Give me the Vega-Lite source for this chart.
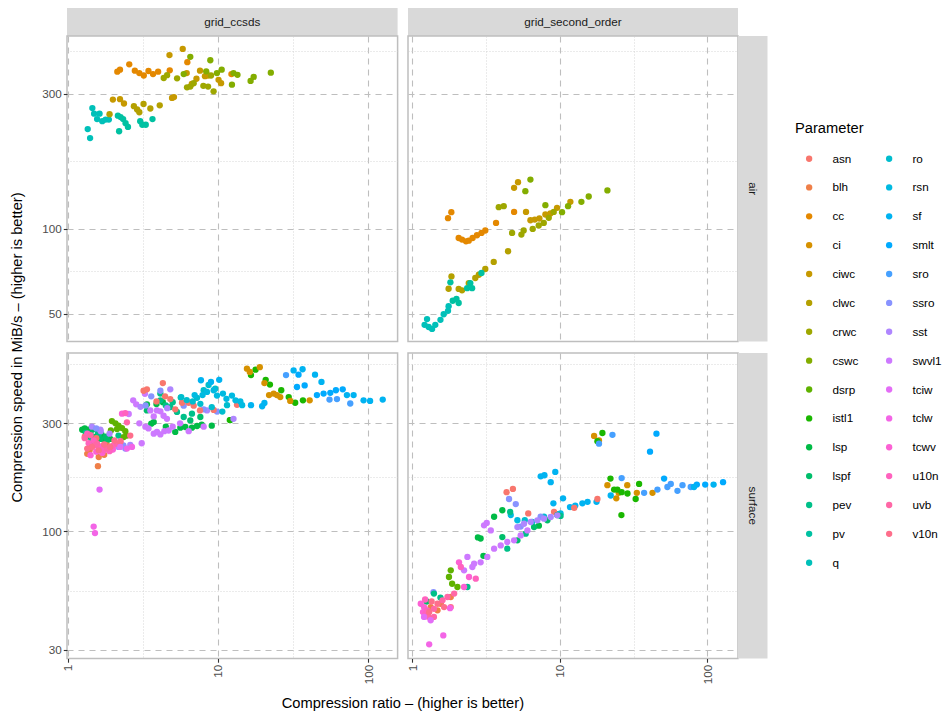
{
  "$schema": "https://vega.github.io/schema/vega-lite/v6.json",
  "background": "white",
  "padding": {"left": 0, "top": 8, "right": 0, "bottom": 0},
  "config": {
    "font": "Liberation Sans",
    "view": {"stroke": null},
    "legend": {
      "orient": "none",
      "legendX": 795,
      "legendY": 113,
      "direction": "vertical",
      "columns": 2,
      "padding": 0,
      "titleFontSize": 14.7,
      "titleFontWeight": "normal",
      "titleColor": "black",
      "titlePadding": 17,
      "labelFontSize": 11.7,
      "labelColor": "black",
      "labelOffset": 17.4,
      "symbolOffset": 8.3,
      "symbolSize": 40,
      "symbolType": "circle",
      "symbolStrokeWidth": 0,
      "symbolOpacity": 1,
      "rowPadding": 15.87,
      "columnPadding": 16
    }
  },
  "datasets": {
    "ca": [
      {"p":"q","r":1.46,"s":267},{"p":"q","r":1.5,"s":255},{"p":"q","r":1.63,"s":255},{"p":"q","r":1.57,"s":244},{"p":"q","r":1.7,"s":240},{"p":"q","r":1.79,"s":243},{"p":"q","r":1.88,"s":243},{"p":"q","r":1.36,"s":225},{"p":"q","r":1.41,"s":209},
      {"p":"pv","r":2.16,"s":251},{"p":"pv","r":2.25,"s":248},{"p":"pv","r":2.34,"s":244},{"p":"pv","r":2.43,"s":236},{"p":"pv","r":2.52,"s":229},{"p":"pv","r":2.2,"s":221},{"p":"pv","r":3.04,"s":240},{"p":"pv","r":3.14,"s":233},{"p":"pv","r":3.31,"s":233},{"p":"pv","r":3.67,"s":244},
      {"p":"cc","r":2.14,"s":359},{"p":"cc","r":2.23,"s":365},{"p":"cc","r":2.57,"s":381},{"p":"cc","r":2.8,"s":362},{"p":"cc","r":3.0,"s":355},{"p":"cc","r":3.21,"s":348},{"p":"cc","r":3.45,"s":361},{"p":"cc","r":3.7,"s":352},{"p":"cc","r":4.0,"s":359},{"p":"cc","r":4.78,"s":363},{"p":"cc","r":6.26,"s":388},{"p":"cc","r":12.3,"s":352},
      {"p":"ciwc","r":4.76,"s":411},{"p":"ciwc","r":5.83,"s":432},{"p":"ciwc","r":6.2,"s":355},{"p":"ciwc","r":7.2,"s":339},{"p":"ciwc","r":7.6,"s":362},{"p":"ciwc","r":8.2,"s":346},{"p":"ciwc","r":8.6,"s":348},{"p":"ciwc","r":10.1,"s":336},{"p":"ciwc","r":10.5,"s":327},{"p":"ciwc","r":6.7,"s":325},{"p":"ciwc","r":2.0,"s":286},{"p":"ciwc","r":2.23,"s":287},{"p":"ciwc","r":2.37,"s":277},{"p":"ciwc","r":4.95,"s":290},{"p":"ciwc","r":5.1,"s":292},
      {"p":"clwc","r":2.76,"s":271},{"p":"clwc","r":2.9,"s":264},{"p":"clwc","r":3.0,"s":258},{"p":"clwc","r":3.2,"s":276},{"p":"clwc","r":3.55,"s":266},{"p":"clwc","r":4.1,"s":273},{"p":"clwc","r":1.9,"s":254},
      {"p":"crwc","r":4.36,"s":341},{"p":"crwc","r":4.59,"s":349},{"p":"crwc","r":5.35,"s":340},{"p":"crwc","r":6.23,"s":316},{"p":"crwc","r":6.55,"s":318},{"p":"crwc","r":8.0,"s":320},{"p":"crwc","r":8.6,"s":318},{"p":"crwc","r":9.36,"s":306},{"p":"crwc","r":9.0,"s":348},{"p":"crwc","r":6.9,"s":327},
      {"p":"cswc","r":6.55,"s":405},{"p":"cswc","r":8.9,"s":394},{"p":"cswc","r":5.92,"s":352},{"p":"cswc","r":8.36,"s":360},{"p":"cswc","r":9.85,"s":355},{"p":"cswc","r":10.6,"s":365},{"p":"cswc","r":12.7,"s":355},{"p":"cswc","r":13.5,"s":350},{"p":"cswc","r":16.5,"s":333},{"p":"cswc","r":17.3,"s":344},{"p":"cswc","r":22.5,"s":356},{"p":"cswc","r":12.4,"s":323}
    ],
    "sa": [
      {"p":"cc","r":1.744,"s":108.9},{"p":"cc","r":1.837,"s":114.4},{"p":"cc","r":2.06,"s":92.7},{"p":"cc","r":2.17,"s":91.5},{"p":"cc","r":2.31,"s":90.2},{"p":"cc","r":2.41,"s":90.7},{"p":"cc","r":2.56,"s":92.7},{"p":"cc","r":2.74,"s":94.8},{"p":"cc","r":2.94,"s":96.6},{"p":"cc","r":3.12,"s":98.5},{"p":"cc","r":3.69,"s":104.8},{"p":"cc","r":4.89,"s":114.6},
      {"p":"ciwc","r":4.89,"s":139.4},{"p":"ciwc","r":5.2,"s":146},{"p":"ciwc","r":5.89,"s":114.6},{"p":"ciwc","r":6.31,"s":107.1},{"p":"ciwc","r":6.75,"s":107.7},{"p":"ciwc","r":7.26,"s":108.6},{"p":"ciwc","r":7.97,"s":112.2},{"p":"ciwc","r":8.62,"s":113.1},{"p":"ciwc","r":9.56,"s":118.5},{"p":"ciwc","r":11.77,"s":124.4},
      {"p":"clwc","r":4.45,"s":83.2},{"p":"clwc","r":3.56,"s":76.3},{"p":"clwc","r":3.12,"s":72.0},{"p":"clwc","r":2.82,"s":68.7},{"p":"clwc","r":2.67,"s":66.9},{"p":"clwc","r":2.41,"s":64.2},{"p":"clwc","r":2.06,"s":61.2},{"p":"clwc","r":1.84,"s":67.8},{"p":"clwc","r":1.76,"s":61.3},{"p":"clwc","r":2.17,"s":60.5},
      {"p":"crwc","r":3.85,"s":119.1},{"p":"crwc","r":4.16,"s":120.1},{"p":"crwc","r":4.74,"s":96.6},{"p":"crwc","r":5.48,"s":95.3},{"p":"crwc","r":5.68,"s":98.5},{"p":"crwc","r":6.54,"s":99.8},{"p":"crwc","r":7.18,"s":102.6},{"p":"crwc","r":7.77,"s":104.8},{"p":"crwc","r":8.4,"s":109.2},{"p":"crwc","r":9.08,"s":114.6},
      {"p":"cswc","r":6.31,"s":149.1},{"p":"cswc","r":5.83,"s":135.7},{"p":"cswc","r":7.97,"s":121.1},{"p":"cswc","r":10.34,"s":114.4},{"p":"cswc","r":11.35,"s":120.1},{"p":"cswc","r":13.98,"s":124.4},{"p":"cswc","r":15.67,"s":129.9},{"p":"cswc","r":20.98,"s":136.5},
      {"p":"q","r":1.257,"s":47.9},{"p":"q","r":1.21,"s":45.7},{"p":"q","r":1.29,"s":44.9},{"p":"q","r":1.36,"s":44.2},{"p":"q","r":1.43,"s":45.7},{"p":"q","r":1.55,"s":47.6},{"p":"q","r":1.63,"s":49.8},{"p":"q","r":1.744,"s":51.2},{"p":"q","r":1.76,"s":53.2},
      {"p":"pv","r":1.876,"s":55.6},{"p":"pv","r":1.99,"s":56.4},{"p":"pv","r":2.06,"s":54.6},{"p":"pv","r":1.81,"s":64.6},{"p":"pv","r":2.35,"s":61.6},{"p":"pv","r":2.47,"s":64.2},{"p":"pv","r":2.54,"s":61.6},{"p":"pv","r":2.94,"s":69.7}
    ],
    "cs": [
      {"p":"lsp","r":1.25,"s":281},{"p":"lsp","r":1.31,"s":279},{"p":"lsp","r":1.38,"s":281},{"p":"lsp","r":1.57,"s":264},{"p":"lsp","r":1.74,"s":255},{"p":"lsp","r":1.92,"s":256},{"p":"lsp","r":3.37,"s":364},{"p":"lsp","r":3.6,"s":299},{"p":"lsp","r":3.74,"s":304},{"p":"lsp","r":5.2,"s":275},{"p":"lsp","r":5.62,"s":287},{"p":"lsp","r":6.07,"s":289},{"p":"lsp","r":6.72,"s":287},{"p":"lsp","r":7.26,"s":292},{"p":"lsp","r":9.1,"s":293},{"p":"lsp","r":12.1,"s":310},
      {"p":"lsp","r":1.3,"s":285},{"p":"lsp","r":1.48,"s":283},{"p":"lsp","r":1.68,"s":268},{"p":"lsp","r":3.9,"s":365},{"p":"lsp","r":4.3,"s":372},{"p":"lsp","r":4.5,"s":290},{"p":"lsp","r":7.8,"s":296},
      {"p":"lspf","r":1.42,"s":273},{"p":"lspf","r":1.49,"s":261},{"p":"lspf","r":1.65,"s":256},{"p":"lspf","r":1.83,"s":252},{"p":"lspf","r":6.55,"s":309},{"p":"lspf","r":7.64,"s":320},{"p":"lspf","r":3.37,"s":342},{"p":"lspf","r":1.38,"s":262},{"p":"lspf","r":1.8,"s":262},
      {"p":"pev","r":1.61,"s":270},{"p":"pev","r":1.45,"s":252},{"p":"pev","r":2.18,"s":265},{"p":"pev","r":4.14,"s":406},{"p":"pev","r":4.14,"s":379},{"p":"pev","r":4.82,"s":354},{"p":"pev","r":5.34,"s":337},{"p":"pev","r":5.92,"s":320},{"p":"pev","r":6.72,"s":331},{"p":"pev","r":5.66,"s":390},{"p":"pev","r":1.32,"s":272},{"p":"pev","r":1.58,"s":278},{"p":"pev","r":4.5,"s":360},{"p":"pev","r":5.0,"s":372},
      {"p":"istl1","r":1.53,"s":248},{"p":"istl1","r":16.6,"s":490},{"p":"istl1","r":17.8,"s":518},{"p":"istl1","r":20.8,"s":467},{"p":"istl1","r":22.2,"s":445},{"p":"istl1","r":26.4,"s":420},{"p":"istl1","r":29.6,"s":392},{"p":"istl1","r":32.7,"s":370},{"p":"istl1","r":36.8,"s":379},{"p":"istl1","r":12,"s":310},
      {"p":"dsrp","r":1.97,"s":307},{"p":"dsrp","r":2.08,"s":300},{"p":"dsrp","r":2.18,"s":293},{"p":"dsrp","r":2.3,"s":286},{"p":"dsrp","r":2.42,"s":277},{"p":"dsrp","r":2.48,"s":265},{"p":"dsrp","r":1.94,"s":279},{"p":"dsrp","r":2.13,"s":283},{"p":"dsrp","r":2.36,"s":261},
      {"p":"swvl1","r":2.73,"s":379},{"p":"swvl1","r":2.86,"s":364},{"p":"swvl1","r":3.11,"s":245},{"p":"swvl1","r":3.29,"s":290},{"p":"swvl1","r":3.55,"s":342},{"p":"swvl1","r":3.74,"s":322},{"p":"swvl1","r":3.93,"s":342},{"p":"swvl1","r":4.14,"s":339},{"p":"swvl1","r":4.35,"s":324},{"p":"swvl1","r":4.58,"s":314},{"p":"swvl1","r":3.74,"s":270},{"p":"swvl1","r":3.93,"s":275},{"p":"swvl1","r":4.14,"s":268},{"p":"swvl1","r":4.4,"s":277},{"p":"swvl1","r":4.7,"s":279},{"p":"swvl1","r":6.39,"s":277},{"p":"swvl1","r":8.04,"s":290},{"p":"swvl1","r":3.27,"s":405},
      {"p":"swvl1","r":2.55,"s":330},{"p":"swvl1","r":3.0,"s":300},{"p":"swvl1","r":3.45,"s":285},{"p":"swvl1","r":5.0,"s":290},{"p":"swvl1","r":5.6,"s":300},
      {"p":"sst","r":1.65,"s":281},{"p":"sst","r":2.18,"s":236},{"p":"sst","r":2.61,"s":241},{"p":"sst","r":4.82,"s":424},{"p":"sst","r":8.46,"s":342},{"p":"sst","r":12.7,"s":314},{"p":"sst","r":1.66,"s":277},{"p":"sst","r":1.45,"s":290},{"p":"sst","r":1.9,"s":270},{"p":"sst","r":3.05,"s":355},{"p":"sst","r":4.6,"s":350},
      {"p":"ssro","r":4.14,"s":418},{"p":"ssro","r":5.92,"s":359},{"p":"ssro","r":8.04,"s":346},{"p":"ssro","r":9.86,"s":338},{"p":"ssro","r":2.42,"s":232},{"p":"ssro","r":1.55,"s":285},{"p":"ssro","r":2.35,"s":240},{"p":"ssro","r":3.3,"s":360},{"p":"ssro","r":3.6,"s":395},
      {"p":"asn","r":1.45,"s":237},{"p":"asn","r":1.69,"s":237},{"p":"asn","r":1.97,"s":237},{"p":"asn","r":3.2,"s":418},{"p":"asn","r":3.37,"s":424},{"p":"asn","r":4.3,"s":452},{"p":"asn","r":4.82,"s":384},{"p":"asn","r":5.2,"s":346},{"p":"asn","r":5.77,"s":370},{"p":"asn","r":6.39,"s":370},{"p":"asn","r":6.9,"s":359},{"p":"asn","r":7.6,"s":342},{"p":"asn","r":9.37,"s":344},{"p":"asn","r":13.4,"s":362},{"p":"asn","r":1.3,"s":262},{"p":"asn","r":1.55,"s":258},{"p":"asn","r":3.9,"s":375},{"p":"asn","r":4.45,"s":395},
      {"p":"blh","r":1.35,"s":220},{"p":"blh","r":1.61,"s":213},{"p":"blh","r":1.59,"s":194},{"p":"blh","r":1.83,"s":240},{"p":"blh","r":1.4,"s":228},{"p":"blh","r":1.75,"s":218},
      {"p":"tcwv","r":1.42,"s":217},{"p":"tcwv","r":1.65,"s":236},{"p":"tcwv","r":2.3,"s":331},{"p":"tcwv","r":1.55,"s":225},{"p":"tcwv","r":1.7,"s":222},{"p":"tcwv","r":2.0,"s":230},
      {"p":"u10n","r":1.35,"s":270},{"p":"u10n","r":1.49,"s":252},{"p":"u10n","r":1.74,"s":228},{"p":"u10n","r":2.02,"s":240},{"p":"u10n","r":2.42,"s":333},{"p":"u10n","r":1.38,"s":245},{"p":"u10n","r":1.62,"s":232},{"p":"u10n","r":1.9,"s":226},
      {"p":"uvb","r":1.42,"s":266},{"p":"uvb","r":1.57,"s":244},{"p":"uvb","r":1.83,"s":232},{"p":"uvb","r":2.13,"s":244},{"p":"uvb","r":2.48,"s":303},{"p":"uvb","r":1.3,"s":258},{"p":"uvb","r":1.52,"s":240},{"p":"uvb","r":2.25,"s":250},
      {"p":"v10n","r":1.45,"s":236},{"p":"v10n","r":1.61,"s":228},{"p":"v10n","r":1.92,"s":236},{"p":"v10n","r":2.24,"s":248},{"p":"v10n","r":2.61,"s":265},{"p":"v10n","r":1.35,"s":232},{"p":"v10n","r":1.75,"s":242},{"p":"v10n","r":2.05,"s":252},
      {"p":"tciw","r":1.63,"s":153},{"p":"tciw","r":2.24,"s":236},
      {"p":"tclw","r":1.49,"s":105},{"p":"tclw","r":1.52,"s":98.3},{"p":"tclw","r":2.48,"s":232},{"p":"tclw","r":2.68,"s":236},
      {"p":"ro","r":5.7,"s":392},{"p":"ro","r":7.26,"s":389},{"p":"ro","r":7.64,"s":366},{"p":"ro","r":9.1,"s":354},{"p":"ro","r":10.7,"s":338},{"p":"ro","r":11.5,"s":361},{"p":"ro","r":8.04,"s":420},{"p":"ro","r":8.67,"s":443},{"p":"ro","r":9.6,"s":427},{"p":"ro","r":6.2,"s":380},{"p":"ro","r":6.8,"s":375},
      {"p":"rsn","r":8.46,"s":413},{"p":"rsn","r":9.37,"s":420},{"p":"rsn","r":9.86,"s":398},{"p":"rsn","r":10.8,"s":406},{"p":"rsn","r":11.4,"s":385},{"p":"rsn","r":12.4,"s":398},{"p":"rsn","r":13.1,"s":379},{"p":"rsn","r":14.1,"s":375},{"p":"rsn","r":14.5,"s":361},{"p":"rsn","r":7.0,"s":400},{"p":"rsn","r":7.9,"s":400},
      {"p":"sf","r":7.71,"s":465},{"p":"sf","r":8.99,"s":457},{"p":"sf","r":10.2,"s":467},{"p":"sf","r":16.6,"s":361},{"p":"sf","r":19.7,"s":357},{"p":"sf","r":20.4,"s":369},{"p":"sf","r":31.9,"s":514},{"p":"sf","r":36.6,"s":520},{"p":"sf","r":44.3,"s":492},{"p":"sf","r":48.9,"s":457},{"p":"sf","r":72.2,"s":400},{"p":"sf","r":80,"s":400},{"p":"sf","r":93.2,"s":379},{"p":"sf","r":103,"s":377},{"p":"sf","r":125,"s":382},
      {"p":"smlt","r":34.4,"s":492},{"p":"smlt","r":33.6,"s":434},{"p":"smlt","r":37.8,"s":441},{"p":"smlt","r":45.6,"s":400},{"p":"smlt","r":50.5,"s":406},{"p":"smlt","r":56,"s":409},{"p":"smlt","r":61,"s":420},{"p":"smlt","r":67.7,"s":424},
      {"p":"sro","r":28.4,"s":490},{"p":"sro","r":55.3,"s":382},{"p":"sro","r":62,"s":384},{"p":"sro","r":76,"s":367},
      {"p":"ci","r":15.6,"s":523},{"p":"ci","r":16.3,"s":506},{"p":"ci","r":19.0,"s":531},{"p":"ci","r":20.4,"s":452},{"p":"ci","r":21.9,"s":400},{"p":"ci","r":23.5,"s":406},{"p":"ci","r":24.7,"s":400},{"p":"ci","r":26,"s":392},{"p":"ci","r":30.3,"s":377},{"p":"ci","r":40.8,"s":379}
    ],
    "ss": [
      {"p":"ci","r":17.04,"s":264},{"p":"ci","r":18.4,"s":252},{"p":"ci","r":20.98,"s":160},{"p":"ci","r":24.1,"s":140},{"p":"ci","r":28.6,"s":160},{"p":"ci","r":25,"s":148},{"p":"ci","r":33.2,"s":148},{"p":"ci","r":42.4,"s":148},
      {"p":"istl1","r":19.4,"s":272},{"p":"istl1","r":17.95,"s":250},{"p":"istl1","r":22,"s":171},{"p":"istl1","r":23.3,"s":153},{"p":"istl1","r":24.5,"s":153},{"p":"istl1","r":26.2,"s":149},{"p":"istl1","r":28.7,"s":147},{"p":"istl1","r":34.4,"s":162},{"p":"istl1","r":32.6,"s":139},{"p":"istl1","r":26.1,"s":118},
      {"p":"sro","r":22.7,"s":267},{"p":"sro","r":18.4,"s":244},{"p":"sro","r":26.2,"s":172},{"p":"sro","r":37.2,"s":148},{"p":"sro","r":45.8,"s":153},{"p":"sro","r":53.5,"s":157},{"p":"sro","r":67.7,"s":160},{"p":"sro","r":56.4,"s":162},{"p":"sro","r":62.6,"s":151},{"p":"sro","r":77,"s":157},
      {"p":"smlt","r":45.1,"s":270},{"p":"smlt","r":40.8,"s":225},{"p":"smlt","r":50.8,"s":171},{"p":"smlt","r":84.7,"s":161},{"p":"smlt","r":96.5,"s":161},{"p":"smlt","r":127.5,"s":165},
      {"p":"sf","r":7.41,"s":175},{"p":"sf","r":7.85,"s":177},{"p":"sf","r":9.3,"s":183},{"p":"sf","r":8.66,"s":165},{"p":"sf","r":9.03,"s":133},{"p":"sf","r":10.5,"s":140},{"p":"sf","r":11.7,"s":128},{"p":"sf","r":12.7,"s":130},{"p":"sf","r":14.2,"s":133},{"p":"sf","r":15.4,"s":135},{"p":"sf","r":17.7,"s":135},{"p":"sf","r":22.1,"s":144},{"p":"sf","r":81,"s":157},{"p":"sf","r":110,"s":161},
      {"p":"ro","r":5.78,"s":112},{"p":"ro","r":6.48,"s":110},{"p":"ro","r":7.8,"s":116},{"p":"ro","r":9.6,"s":119},
      {"p":"rsn","r":10.1,"s":120},{"p":"rsn","r":5.15,"s":112},{"p":"rsn","r":4.64,"s":118},
      {"p":"asn","r":4.35,"s":149},{"p":"asn","r":4.8,"s":154},{"p":"asn","r":6.1,"s":120},{"p":"asn","r":12.5,"s":127},{"p":"asn","r":17.95,"s":139},{"p":"asn","r":9.12,"s":122},
      {"p":"ssro","r":4.52,"s":139},{"p":"ssro","r":5.02,"s":132},{"p":"ssro","r":5.42,"s":105},{"p":"ssro","r":7.4,"s":116},{"p":"ssro","r":1.39,"s":53.9},
      {"p":"lsp","r":2.9,"s":93},{"p":"lsp","r":2.78,"s":94},{"p":"lsp","r":3.03,"s":78},{"p":"lsp","r":3.58,"s":116},{"p":"lsp","r":4.07,"s":124},{"p":"lsp","r":7.2,"s":106},{"p":"lsp","r":9.6,"s":118},
      {"p":"dsrp","r":1.82,"s":67.3},{"p":"dsrp","r":1.77,"s":62.9},{"p":"dsrp","r":1.86,"s":58.7},{"p":"dsrp","r":2.02,"s":56.8},
      {"p":"lspf","r":4.07,"s":94.4},{"p":"lspf","r":5.15,"s":91.3},{"p":"lspf","r":6.68,"s":104.5},{"p":"lspf","r":8.22,"s":111.9},{"p":"lspf","r":1.25,"s":49},
      {"p":"pev","r":4.4,"s":83.9},{"p":"pev","r":5.86,"s":97.7},{"p":"pev","r":10.1,"s":117},{"p":"pev","r":4.6,"s":121.8},{"p":"pev","r":2.36,"s":56.8},{"p":"pev","r":1.4,"s":53.1},{"p":"pev","r":1.55,"s":51},
      {"p":"swvl1","r":2.36,"s":77.1},{"p":"swvl1","r":2.62,"s":72},{"p":"swvl1","r":2.9,"s":73},{"p":"swvl1","r":3.22,"s":77.1},{"p":"swvl1","r":3.58,"s":83.9},{"p":"swvl1","r":3.97,"s":86.7},{"p":"swvl1","r":4.4,"s":89.8},{"p":"swvl1","r":4.89,"s":91.3},{"p":"swvl1","r":5.42,"s":96},{"p":"swvl1","r":6.02,"s":101},{"p":"swvl1","r":3.06,"s":106.3},{"p":"swvl1","r":3.19,"s":109},{"p":"swvl1","r":3.4,"s":101},{"p":"swvl1","r":2.55,"s":69.6},{"p":"swvl1","r":2.24,"s":67.3},
      {"p":"sst","r":5.15,"s":104.5},{"p":"sst","r":5.71,"s":108.1},{"p":"sst","r":6.34,"s":110},{"p":"sst","r":7.03,"s":111.9},{"p":"sst","r":7.8,"s":113.8},{"p":"sst","r":8.66,"s":115.7},{"p":"sst","r":9.6,"s":117.7},
      {"p":"blh","r":1.33,"s":46.3},{"p":"blh","r":1.48,"s":44.8},{"p":"blh","r":1.82,"s":51.3},{"p":"blh","r":1.56,"s":47.9},
      {"p":"tcwv","r":1.14,"s":47.9},{"p":"tcwv","r":1.2,"s":46.3},{"p":"tcwv","r":2.07,"s":73},{"p":"tcwv","r":2.24,"s":56.8},{"p":"tcwv","r":2.42,"s":62.9},{"p":"tcwv","r":1.18,"s":44},
      {"p":"u10n","r":1.23,"s":43.3},{"p":"u10n","r":1.26,"s":44.8},{"p":"u10n","r":2.13,"s":69.6},{"p":"u10n","r":2.69,"s":61.8},{"p":"u10n","r":1.22,"s":50},
      {"p":"uvb","r":1.4,"s":45.5},{"p":"uvb","r":1.6,"s":49.6},{"p":"uvb","r":1.73,"s":51.3},{"p":"uvb","r":1.92,"s":53.1},{"p":"uvb","r":1.4,"s":41.9},{"p":"uvb","r":1.28,"s":42},
      {"p":"v10n","r":1.48,"s":47.9},{"p":"v10n","r":1.82,"s":46.3},{"p":"v10n","r":1.3,"s":44},{"p":"v10n","r":1.64,"s":46.3},{"p":"v10n","r":1.35,"s":49},
      {"p":"tclw","r":1.3,"s":31.7},{"p":"tclw","r":1.62,"s":34.7},{"p":"tclw","r":1.8,"s":45.8},
      {"p":"tciw","r":1.2,"s":41.9},{"p":"tciw","r":1.33,"s":40.5}
    ]
  },
  "columns": 5,
  "spacing": 0,
  "bounds": "flush",
  "align": "each",
  "center": false,
  "resolve": {"scale": {"color": "shared"}, "legend": {"color": "shared"}},
  "concat": [
    {"width": 67, "height": 28, "data": {"values": []}, "mark": {"type": "point", "opacity": 0}, "view": {"fill": "white", "stroke": null}},
    {"width": 330.6, "height": 28, "data": {"values": [{"t": "grid_ccsds"}]}, "mark": {"type": "text", "fontSize": 11.7, "color": "#1A1A1A"}, "encoding": {"text": {"field": "t"}}, "view": {"fill": "#D9D9D9", "stroke": null}},
    {"width": 1, "height": 1, "data": {"values": []}, "mark": {"type": "point", "opacity": 0}},
    {"width": 330, "height": 28, "data": {"values": [{"t": "grid_second_order"}]}, "mark": {"type": "text", "fontSize": 11.7, "color": "#1A1A1A"}, "encoding": {"text": {"field": "t"}}, "view": {"fill": "#D9D9D9", "stroke": null}},
    {"width": 1, "height": 1, "data": {"values": []}, "mark": {"type": "point", "opacity": 0}},

    {"width": 1, "height": 1, "data": {"values": []}, "mark": {"type": "point", "opacity": 0}},
    {
      "width": 330.6, "height": 305.5,
      "data": {"name": "ca"},
      "mark": {"type": "point", "filled": true, "size": 40, "opacity": 1, "strokeWidth": 0},
      "encoding": {
        "x": {"field": "r", "type": "quantitative", "scale": {"type": "log", "domain": [0.99, 157], "nice": false, "zero": false},
          "axis": {"values": [1, 3.1623, 10, 31.623, 100], "title": null, "domain": false, "labels": false, "ticks": false, "grid": true,
            "gridDash": {"condition": {"test": "datum.value == 1 || datum.value == 10 || datum.value == 100", "value": [6, 5]}, "value": [1, 2]},
            "gridColor": {"condition": {"test": "datum.value == 1 || datum.value == 10 || datum.value == 100", "value": "#BEBEBE"}, "value": "#CDCDCD"},
            "gridWidth": {"condition": {"test": "datum.value == 1 || datum.value == 10 || datum.value == 100", "value": 1.1}, "value": 0.8}}},
        "y": {"field": "s", "type": "quantitative", "scale": {"type": "log", "domain": [39.9, 480], "nice": false, "zero": false},
          "axis": {"values": [50, 70.711, 100, 173.21, 300, 424.26], "title": null, "domain": false, "grid": true,
            "gridDash": {"condition": {"test": "datum.value == 50 || datum.value == 100 || datum.value == 300", "value": [6, 5]}, "value": [1, 2]},
            "gridColor": {"condition": {"test": "datum.value == 50 || datum.value == 100 || datum.value == 300", "value": "#BEBEBE"}, "value": "#CDCDCD"},
            "gridWidth": {"condition": {"test": "datum.value == 50 || datum.value == 100 || datum.value == 300", "value": 1.1}, "value": 0.8},
            "tickSize": 3.7, "tickColor": "#333333", "tickWidth": 1.1,
            "tickOpacity": {"condition": {"test": "datum.value == 50 || datum.value == 100 || datum.value == 300", "value": 1}, "value": 0},
            "labelExpr": "(datum.value == 50 || datum.value == 100 || datum.value == 300) ? format(datum.value, 'd') : ''",
            "labelFontSize": 11.7, "labelColor": "#4D4D4D", "labelPadding": 2, "labelOverlap": false, "labelFlush": false, "labelBound": false}},
        "color": {"field": "p", "type": "nominal", "title": "Parameter",
          "scale": {"domain": ["asn","blh","cc","ci","ciwc","clwc","crwc","cswc","dsrp","istl1","lsp","lspf","pev","pv","q","ro","rsn","sf","smlt","sro","ssro","sst","swvl1","tciw","tclw","tcwv","u10n","uvb","v10n"],
            "range": ["#F8766D","#EF7F48","#E48800","#D69100","#C69900","#B4A000","#9EA700","#83AD00","#5FB200","#1AB700","#00BB46","#00BE6B","#00C089","#00C1A2","#00C0B9","#00BDCE","#00BAE1","#00B3F1","#00AAFE","#46A0FF","#8893FF","#AF86FF","#CD79FF","#E36DF6","#F365E6","#FC61D4","#FF62BE","#FF67A6","#FE6E8B"]}}
      },
      "view": {"stroke": "#BEBEBE", "strokeWidth": 1.5}
    },
    {"width": 9.7, "height": 1, "data": {"values": []}, "mark": {"type": "point", "opacity": 0}},
    {
      "width": 330, "height": 305.5,
      "data": {"name": "sa"},
      "mark": {"type": "point", "filled": true, "size": 40, "opacity": 1, "strokeWidth": 0},
      "encoding": {
        "x": {"field": "r", "type": "quantitative", "scale": {"type": "log", "domain": [0.934, 161], "nice": false, "zero": false},
          "axis": {"values": [1, 3.1623, 10, 31.623, 100], "title": null, "domain": false, "labels": false, "ticks": false, "grid": true,
            "gridDash": {"condition": {"test": "datum.value == 1 || datum.value == 10 || datum.value == 100", "value": [6, 5]}, "value": [1, 2]},
            "gridColor": {"condition": {"test": "datum.value == 1 || datum.value == 10 || datum.value == 100", "value": "#BEBEBE"}, "value": "#CDCDCD"},
            "gridWidth": {"condition": {"test": "datum.value == 1 || datum.value == 10 || datum.value == 100", "value": 1.1}, "value": 0.8}}},
        "y": {"field": "s", "type": "quantitative", "scale": {"type": "log", "domain": [39.9, 480], "nice": false, "zero": false},
          "axis": {"values": [50, 70.711, 100, 173.21, 300, 424.26], "title": null, "domain": false, "labels": false, "ticks": false, "grid": true,
            "gridDash": {"condition": {"test": "datum.value == 50 || datum.value == 100 || datum.value == 300", "value": [6, 5]}, "value": [1, 2]},
            "gridColor": {"condition": {"test": "datum.value == 50 || datum.value == 100 || datum.value == 300", "value": "#BEBEBE"}, "value": "#CDCDCD"},
            "gridWidth": {"condition": {"test": "datum.value == 50 || datum.value == 100 || datum.value == 300", "value": 1.1}, "value": 0.8}}},
        "color": {"field": "p", "type": "nominal", "title": "Parameter",
          "scale": {"domain": ["asn","blh","cc","ci","ciwc","clwc","crwc","cswc","dsrp","istl1","lsp","lspf","pev","pv","q","ro","rsn","sf","smlt","sro","ssro","sst","swvl1","tciw","tclw","tcwv","u10n","uvb","v10n"],
            "range": ["#F8766D","#EF7F48","#E48800","#D69100","#C69900","#B4A000","#9EA700","#83AD00","#5FB200","#1AB700","#00BB46","#00BE6B","#00C089","#00C1A2","#00C0B9","#00BDCE","#00BAE1","#00B3F1","#00AAFE","#46A0FF","#8893FF","#AF86FF","#CD79FF","#E36DF6","#F365E6","#FC61D4","#FF62BE","#FF67A6","#FE6E8B"]}}
      },
      "view": {"stroke": "#BEBEBE", "strokeWidth": 1.5}
    },
    {"width": 29.5, "height": 305.5, "data": {"values": [{"t": "air"}]}, "mark": {"type": "text", "fontSize": 11.7, "color": "#1A1A1A", "angle": 90}, "encoding": {"text": {"field": "t"}}, "view": {"fill": "#D9D9D9", "stroke": null}},

    {"width": 67, "height": 11, "data": {"values": [{"t": "Compression speed in MiB/s – (higher is better)"}]}, "mark": {"type": "text", "fontSize": 14.7, "color": "black", "angle": 270, "dy": -15.5}, "encoding": {"text": {"field": "t"}}},
    {"width": 1, "height": 1, "data": {"values": []}, "mark": {"type": "point", "opacity": 0}},
    {"width": 1, "height": 1, "data": {"values": []}, "mark": {"type": "point", "opacity": 0}},
    {"width": 1, "height": 1, "data": {"values": []}, "mark": {"type": "point", "opacity": 0}},
    {"width": 1, "height": 1, "data": {"values": []}, "mark": {"type": "point", "opacity": 0}},

    {"width": 1, "height": 1, "data": {"values": []}, "mark": {"type": "point", "opacity": 0}},
    {
      "width": 330.6, "height": 305.5,
      "data": {"name": "cs"},
      "mark": {"type": "point", "filled": true, "size": 40, "opacity": 1, "strokeWidth": 0},
      "encoding": {
        "x": {"field": "r", "type": "quantitative", "scale": {"type": "log", "domain": [0.99, 157], "nice": false, "zero": false},
          "axis": {"values": [1, 3.1623, 10, 31.623, 100], "title": null, "domain": false, "grid": true,
            "gridDash": {"condition": {"test": "datum.value == 1 || datum.value == 10 || datum.value == 100", "value": [6, 5]}, "value": [1, 2]},
            "gridColor": {"condition": {"test": "datum.value == 1 || datum.value == 10 || datum.value == 100", "value": "#BEBEBE"}, "value": "#CDCDCD"},
            "gridWidth": {"condition": {"test": "datum.value == 1 || datum.value == 10 || datum.value == 100", "value": 1.1}, "value": 0.8},
            "tickSize": 3.7, "tickColor": "#333333", "tickWidth": 1.1,
            "tickOpacity": {"condition": {"test": "datum.value == 1 || datum.value == 10 || datum.value == 100", "value": 1}, "value": 0},
            "labelExpr": "(datum.value == 1 || datum.value == 10 || datum.value == 100) ? format(datum.value, 'd') : ''",
            "labelAngle": 270, "labelAlign": "right", "labelBaseline": "middle",
            "labelFontSize": 11.7, "labelColor": "#4D4D4D", "labelPadding": 2, "labelOverlap": false, "labelFlush": false, "labelBound": false}},
        "y": {"field": "s", "type": "quantitative", "scale": {"type": "log", "domain": [27.45, 613.5], "nice": false, "zero": false},
          "axis": {"values": [30, 54.772, 100, 173.21, 300, 547.72], "title": null, "domain": false, "grid": true,
            "gridDash": {"condition": {"test": "datum.value == 30 || datum.value == 100 || datum.value == 300", "value": [6, 5]}, "value": [1, 2]},
            "gridColor": {"condition": {"test": "datum.value == 30 || datum.value == 100 || datum.value == 300", "value": "#BEBEBE"}, "value": "#CDCDCD"},
            "gridWidth": {"condition": {"test": "datum.value == 30 || datum.value == 100 || datum.value == 300", "value": 1.1}, "value": 0.8},
            "tickSize": 3.7, "tickColor": "#333333", "tickWidth": 1.1,
            "tickOpacity": {"condition": {"test": "datum.value == 30 || datum.value == 100 || datum.value == 300", "value": 1}, "value": 0},
            "labelExpr": "(datum.value == 30 || datum.value == 100 || datum.value == 300) ? format(datum.value, 'd') : ''",
            "labelFontSize": 11.7, "labelColor": "#4D4D4D", "labelPadding": 2, "labelOverlap": false, "labelFlush": false, "labelBound": false}},
        "color": {"field": "p", "type": "nominal", "title": "Parameter",
          "scale": {"domain": ["asn","blh","cc","ci","ciwc","clwc","crwc","cswc","dsrp","istl1","lsp","lspf","pev","pv","q","ro","rsn","sf","smlt","sro","ssro","sst","swvl1","tciw","tclw","tcwv","u10n","uvb","v10n"],
            "range": ["#F8766D","#EF7F48","#E48800","#D69100","#C69900","#B4A000","#9EA700","#83AD00","#5FB200","#1AB700","#00BB46","#00BE6B","#00C089","#00C1A2","#00C0B9","#00BDCE","#00BAE1","#00B3F1","#00AAFE","#46A0FF","#8893FF","#AF86FF","#CD79FF","#E36DF6","#F365E6","#FC61D4","#FF62BE","#FF67A6","#FE6E8B"]}}
      },
      "view": {"stroke": "#BEBEBE", "strokeWidth": 1.5}
    },
    {"width": 1, "height": 1, "data": {"values": []}, "mark": {"type": "point", "opacity": 0}},
    {
      "width": 330, "height": 305.5,
      "data": {"name": "ss"},
      "mark": {"type": "point", "filled": true, "size": 40, "opacity": 1, "strokeWidth": 0},
      "encoding": {
        "x": {"field": "r", "type": "quantitative", "scale": {"type": "log", "domain": [0.934, 161], "nice": false, "zero": false},
          "axis": {"values": [1, 3.1623, 10, 31.623, 100], "title": null, "domain": false, "grid": true,
            "gridDash": {"condition": {"test": "datum.value == 1 || datum.value == 10 || datum.value == 100", "value": [6, 5]}, "value": [1, 2]},
            "gridColor": {"condition": {"test": "datum.value == 1 || datum.value == 10 || datum.value == 100", "value": "#BEBEBE"}, "value": "#CDCDCD"},
            "gridWidth": {"condition": {"test": "datum.value == 1 || datum.value == 10 || datum.value == 100", "value": 1.1}, "value": 0.8},
            "tickSize": 3.7, "tickColor": "#333333", "tickWidth": 1.1,
            "tickOpacity": {"condition": {"test": "datum.value == 1 || datum.value == 10 || datum.value == 100", "value": 1}, "value": 0},
            "labelExpr": "(datum.value == 1 || datum.value == 10 || datum.value == 100) ? format(datum.value, 'd') : ''",
            "labelAngle": 270, "labelAlign": "right", "labelBaseline": "middle",
            "labelFontSize": 11.7, "labelColor": "#4D4D4D", "labelPadding": 2, "labelOverlap": false, "labelFlush": false, "labelBound": false}},
        "y": {"field": "s", "type": "quantitative", "scale": {"type": "log", "domain": [27.45, 613.5], "nice": false, "zero": false},
          "axis": {"values": [30, 54.772, 100, 173.21, 300, 547.72], "title": null, "domain": false, "labels": false, "ticks": false, "grid": true,
            "gridDash": {"condition": {"test": "datum.value == 30 || datum.value == 100 || datum.value == 300", "value": [6, 5]}, "value": [1, 2]},
            "gridColor": {"condition": {"test": "datum.value == 30 || datum.value == 100 || datum.value == 300", "value": "#BEBEBE"}, "value": "#CDCDCD"},
            "gridWidth": {"condition": {"test": "datum.value == 30 || datum.value == 100 || datum.value == 300", "value": 1.1}, "value": 0.8}}},
        "color": {"field": "p", "type": "nominal", "title": "Parameter",
          "scale": {"domain": ["asn","blh","cc","ci","ciwc","clwc","crwc","cswc","dsrp","istl1","lsp","lspf","pev","pv","q","ro","rsn","sf","smlt","sro","ssro","sst","swvl1","tciw","tclw","tcwv","u10n","uvb","v10n"],
            "range": ["#F8766D","#EF7F48","#E48800","#D69100","#C69900","#B4A000","#9EA700","#83AD00","#5FB200","#1AB700","#00BB46","#00BE6B","#00C089","#00C1A2","#00C0B9","#00BDCE","#00BAE1","#00B3F1","#00AAFE","#46A0FF","#8893FF","#AF86FF","#CD79FF","#E36DF6","#F365E6","#FC61D4","#FF62BE","#FF67A6","#FE6E8B"]}}
      },
      "view": {"stroke": "#BEBEBE", "strokeWidth": 1.5}
    },
    {"width": 29.5, "height": 305.5, "data": {"values": [{"t": "surface"}]}, "mark": {"type": "text", "fontSize": 11.7, "color": "#1A1A1A", "angle": 90}, "encoding": {"text": {"field": "t"}}, "view": {"fill": "#D9D9D9", "stroke": null}},

    {"width": 1, "height": 50, "data": {"values": []}, "mark": {"type": "point", "opacity": 0}},
    {"width": 1, "height": 1, "data": {"values": []}, "mark": {"type": "point", "opacity": 0}},
    {"width": 9.7, "height": 50, "data": {"values": [{"t": "Compression ratio – (higher is better)"}]}, "mark": {"type": "text", "fontSize": 14.7, "color": "black", "dy": 20}, "encoding": {"text": {"field": "t"}}},
    {"width": 1, "height": 1, "data": {"values": []}, "mark": {"type": "point", "opacity": 0}},
    {"width": 1, "height": 1, "data": {"values": []}, "mark": {"type": "point", "opacity": 0}}
  ]
}
